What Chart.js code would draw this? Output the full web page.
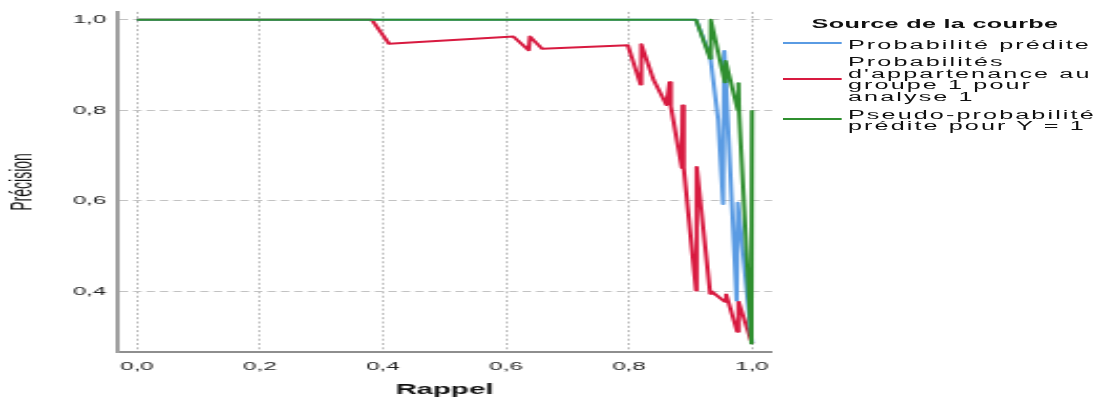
<!DOCTYPE html>
<html lang="fr">
<head>
<meta charset="UTF-8">
<title>Précision - Rappel</title>
<script src="https://cdn.jsdelivr.net/npm/chart.js"></script>
<style>
  html, body { margin: 0; padding: 0; background: #fff; overflow: hidden; }
  #wrap {
    position: absolute; left: 0; top: 0;
    width: 526px; height: 400px;
    transform: scaleX(2.0989); transform-origin: 0 0;
    font-family: "Liberation Sans", Arial, sans-serif;
  }
  #wrap canvas { position: absolute; left: 0; top: 0; }
  .lg { position: absolute; color: #111; white-space: nowrap; }
  .lg-title { font-weight: bold; font-size: 12px; line-height: 14px; letter-spacing: 0.15px; }
  .lg-item { font-size: 12px; line-height: 11.4px; letter-spacing: 1px; }
  .lg-line { position: absolute; height: 2px; width: 27.8px; left: 372.9px; }
</style>
</head>
<body>
<div id="wrap">
  <canvas id="prChart" width="526" height="400" style="width:526px;height:400px"></canvas>
</div>

<script>
// Courbes précision / rappel
const seriesNames = [
  ["Probabilité prédite"],
  ["Probabilités", "d'appartenance au", "groupe 1 pour", "analyse 1"],
  ["Pseudo-probabilité", "prédite pour Y = 1"]
];
const seriesColors = ["#5a9be3", "#d81a40", "#2f8f2f"];

const blueRecall    = [0, 0.909, 0.932, 0.945, 0.953, 0.955, 0.975, 0.977, 1.0];
const bluePrecision = [1, 1, 0.920, 0.780, 0.593, 0.931, 0.380, 0.596, 0.285];

const redRecall    = [0, 0.382, 0.410, 0.612, 0.637, 0.639, 0.659, 0.798, 0.819, 0.820, 0.840, 0.861, 0.866, 0.868,
                      0.886, 0.887, 0.889, 0.909, 0.910, 0.932, 0.934, 0.956, 0.958, 0.976, 0.978, 1.0];
const redPrecision = [1, 1, 0.947, 0.963, 0.933, 0.963, 0.936, 0.944, 0.857, 0.946, 0.867, 0.812, 0.862, 0.809,
                      0.673, 0.811, 0.673, 0.402, 0.675, 0.395, 0.400, 0.377, 0.393, 0.311, 0.377, 0.285];

const greenRecall    = [0, 0.909, 0.932, 0.933, 0.956, 0.957, 0.977, 0.978, 0.979, 0.999, 1.0];
const greenPrecision = [1, 1, 0.914, 1.0, 0.862, 0.909, 0.800, 0.860, 0.795, 0.285, 0.800];

const xTicks = [0, 0.2, 0.4, 0.6, 0.8, 1.0];
const yTicks = [0.4, 0.6, 0.8, 1.0];

function toPoints(xs, ys) {
  return xs.map((x, i) => ({ x: x, y: ys[i] }));
}
function fmt(v) {
  return v.toFixed(1).replace(".", ",");
}

// legende HTML (libellés sur plusieurs lignes)
const wrap = document.getElementById("wrap");
function addDiv(cls, css, html) {
  const d = document.createElement("div");
  d.className = cls;
  Object.assign(d.style, css);
  if (html) d.innerHTML = html;
  wrap.appendChild(d);
}
addDiv("lg lg-title", { left: "386.7px", top: "17.1px" }, "Source de la courbe");
const lineTops = ["42px", "78px", "118px"];
const textTops = ["39.5px", "57.3px", "109.5px"];
seriesNames.forEach((lines, i) => {
  addDiv("lg-line", { top: lineTops[i], backgroundColor: seriesColors[i] });
  addDiv("lg lg-item", { left: "404px", top: textTops[i], lineHeight: i === 2 ? "11px" : "11.4px" }, lines.join("<br>"));
});

const ctx = document.getElementById("prChart").getContext("2d");
new Chart(ctx, {
  type: "line",
  data: {
    datasets: [
      { label: seriesNames[1].join(" "), data: toPoints(redRecall, redPrecision), borderColor: seriesColors[1], order: 3 },
      { label: seriesNames[0].join(" "), data: toPoints(blueRecall, bluePrecision), borderColor: seriesColors[0], order: 2 },
      { label: seriesNames[2].join(" "), data: toPoints(greenRecall, greenPrecision), borderColor: seriesColors[2], order: 1 }
    ]
  },
  options: {
    responsive: false,
    animation: false,
    devicePixelRatio: 1,
    layout: { padding: { top: 10, right: 158.2, left: 0, bottom: 0 } },
    elements: {
      line: { borderWidth: 2, tension: 0, fill: false, borderJoinStyle: "round" },
      point: { radius: 0, hoverRadius: 0 }
    },
    plugins: { legend: { display: false }, tooltip: { enabled: false } },
    scales: {
      x: {
        type: "linear",
        min: -0.0325,
        max: 1.0325,
        afterBuildTicks: (s) => { s.ticks = xTicks.map(v => ({ value: v })); },
        afterFit: (s) => { s.height = 48; },
        ticks: {
          callback: (v) => fmt(v),
          color: "#222",
          padding: 8,
          maxRotation: 0,
          font: { family: "'Liberation Sans', Arial", size: 11.5 }
        },
        grid: { color: "#bdbdbd", lineWidth: 1, drawTicks: false },
        border: { color: "#8e8e8e", width: 2, dash: [2, 2.3] },
        title: {
          display: true,
          text: "Rappel",
          color: "#111",
          padding: { top: 0, bottom: 1.6 },
          font: { family: "'Liberation Sans', Arial", size: 14, weight: "bold" }
        }
      },
      y: {
        min: 0.266,
        max: 1.0176,
        afterBuildTicks: (s) => { s.ticks = yTicks.map(v => ({ value: v })); },
        afterFit: (s) => { s.width = 55.7; },
        ticks: {
          callback: (v) => fmt(v),
          color: "#222",
          padding: 5,
          font: { family: "'Liberation Sans', Arial", size: 11.5 }
        },
        grid: { color: "#c2c2c2", lineWidth: 1, drawTicks: false },
        border: { color: "#a0a0a0", width: 2, dash: [4, 2.4] },
        title: {
          display: true,
          text: "Précision",
          color: "#111",
          padding: { top: 3.2, bottom: 0 },
          font: { family: "'Liberation Sans', Arial", size: 14 }
        }
      }
    }
  }
});
</script>
</body>
</html>
